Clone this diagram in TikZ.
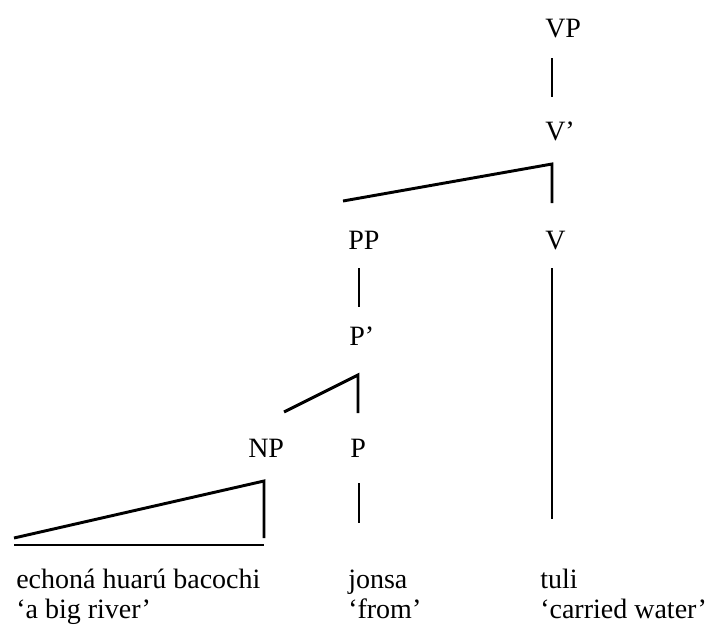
\documentclass[tikz,border=0pt]{standalone}
\usepackage{fontspec}
\setmainfont{Liberation Serif}
\usepackage{tikz}

\tikzset{
  cat/.style={anchor=base west, inner sep=0pt, font=\fontsize{21}{25}\selectfont},
  word/.style={anchor=base west, inner sep=0pt, font=\fontsize{21}{25}\selectfont},
  branch/.style={line width=2.2pt, line cap=butt, line join=miter}
}

\begin{document}
\begin{tikzpicture}[x=0.75pt,y=0.75pt,yscale=-1,xscale=1]
\useasboundingbox (0,0) rectangle (716,639);
% Text Node
\node[cat] (VP) at (545,37) {VP};
% Text Node
\node[cat] (Vbar) at (545,140) {V'};
% Text Node
\node[cat] (V) at (545,249) {V};
% Text Node
\node[cat] (PP) at (348,249) {PP};
% Text Node
\node[cat] (Pbar) at (349,345) {P'};
% Text Node
\node[cat] (P) at (350,457) {P};
% Text Node
\node[cat] (NP) at (248,457) {NP};
% Text Node
\node[word] (w-np) at (16,588) {echoná huarú bacochi};
\node[word] (g-np) at (16,618) {`a big river'};
% Text Node
\node[word] (w-p) at (348,588) {jonsa};
\node[word] (g-p) at (348,618) {`from'};
% Text Node
\node[word] (w-v) at (540,588) {tuli};
\node[word] (g-v) at (540,618) {`carried water'};

% line ends
\coordinate (vp-foot) at (552,58);
\coordinate (vbar-head) at (552,97);
\coordinate (vbar-top) at (552,164);
\coordinate (pp-head) at (343,201);
\coordinate (v-head) at (552,203);
\coordinate (v-foot) at (552,519);
\coordinate (v-top) at (552,268);
\coordinate (pp-foot) at (359,268);
\coordinate (pbar-head) at (359,307);
\coordinate (pbar-top) at (358,375);
\coordinate (np-head) at (284,412);
\coordinate (p-head) at (358,413);
\coordinate (p-top) at (359,483);
\coordinate (p-foot) at (359,523);
\coordinate (np-top) at (264,481);
\coordinate (np-low) at (264,538);
\coordinate (np-left) at (14,538);
\coordinate (base-l) at (14,545);
\coordinate (base-r) at (264,545);

%Straight Lines
\draw[branch] (vp-foot) -- (vbar-head);
%Straight Lines
\draw[branch] (pp-head) -- (vbar-top) -- (v-head);
%Straight Lines
\draw[branch] (v-top) -- (v-foot);
%Straight Lines
\draw[branch] (pp-foot) -- (pbar-head);
%Straight Lines
\draw[branch] (np-head) -- (pbar-top) -- (p-head);
%Straight Lines
\draw[branch] (p-top) -- (p-foot);
%Triangle
\draw[branch] (np-left) -- (np-top) -- (np-low);
\draw[branch] (base-l) -- (base-r);
\end{tikzpicture}
\end{document}
